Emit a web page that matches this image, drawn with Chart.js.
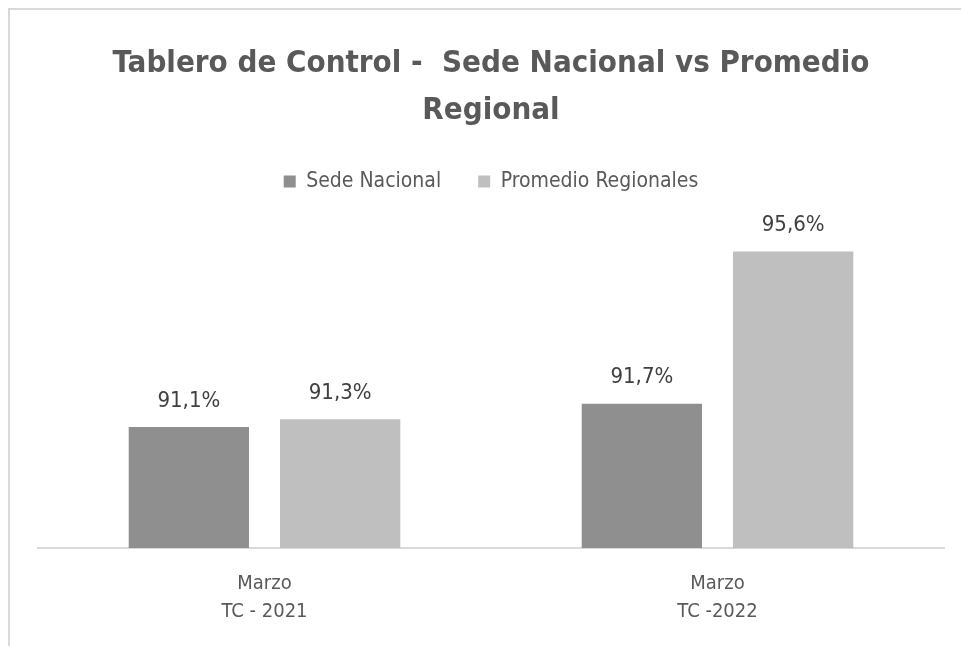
<!DOCTYPE html>
<html>
<head>
<meta charset="utf-8">
<script src="https://cdn.jsdelivr.net/npm/chart.js@4/dist/chart.umd.min.js"></script>
<style>
  body { margin: 0; background: #fff; }
  #wrap {
    position: absolute; left: 8px; top: 8px;
    width: 953px; height: 638px;
    border-left: 2px solid #d9d9d9; border-top: 2px solid #d9d9d9;
  }
</style>
</head>
<body>
<div id="wrap"><canvas id="chart" width="951" height="636"></canvas></div>
<script>
const FONT = "'Liberation Sans Narrow', 'DejaVu Sans Condensed', 'Open Sans', sans-serif";

// data
const categories = [['Marzo', 'TC - 2021'], ['Marzo', 'TC -2022']];
const sedeNacional = [91.1, 91.7];
const promedioRegionales = [91.3, 95.6];

// draw value labels above each bar (no datalabels plugin available offline)
const valueLabels = {
  id: 'valueLabels',
  afterDatasetsDraw(chart) {
    const ctx = chart.ctx;
    ctx.save();
    ctx.font = '22px ' + FONT;
    ctx.fillStyle = '#404040';
    ctx.textAlign = 'center';
    ctx.textBaseline = 'bottom';
    chart.data.datasets.forEach((ds, i) => {
      chart.getDatasetMeta(i).data.forEach((bar, j) => {
        const txt = ds.data[j].toFixed(1).replace('.', ',') + '%';
        ctx.fillText(txt, bar.x, bar.y - 15);
      });
    });
    ctx.restore();
  }
};

// extra room between legend and bars
const legendSpace = {
  id: 'legendSpace',
  beforeInit(chart) {
    const fit = chart.legend.fit;
    chart.legend.fit = function () {
      fit.bind(chart.legend)();
      this.height += 34;
    };
  }
};

const ctx = document.getElementById('chart').getContext('2d');
new Chart(ctx, {
  type: 'bar',
  data: {
    labels: categories,
    datasets: [
      {
        label: 'Sede Nacional',
        data: sedeNacional,
        backgroundColor: '#8f8f8f',
        categoryPercentage: 0.668,
        barPercentage: 0.795
      },
      {
        label: 'Promedio Regionales',
        data: promedioRegionales,
        backgroundColor: '#bfbfbf',
        categoryPercentage: 0.668,
        barPercentage: 0.795
      }
    ]
  },
  options: {
    responsive: false,
    animation: false,
    layout: { padding: { left: 28, right: 17, bottom: 6 } },
    plugins: {
      title: {
        display: true,
        text: ['Tablero de Control -  Sede Nacional vs Promedio', 'Regional'],
        color: '#595959',
        font: { family: FONT, size: 31, weight: 'bold', lineHeight: 1.5 },
        padding: { top: 31, bottom: 0 }
      },
      legend: {
        labels: {
          color: '#595959',
          font: { family: FONT, size: 21 },
          boxWidth: 12,
          boxHeight: 12,
          padding: 37
        }
      },
      tooltip: { enabled: false }
    },
    scales: {
      x: {
        grid: { display: false },
        border: { display: true, color: '#d9d9d9', width: 2 },
        ticks: {
          color: '#595959',
          font: { family: FONT, size: 20, lineHeight: 1.4 },
          padding: 14
        }
      },
      y: {
        display: false,
        min: 88,
        max: 96
      }
    }
  },
  plugins: [valueLabels, legendSpace]
});
</script>
</body>
</html>
